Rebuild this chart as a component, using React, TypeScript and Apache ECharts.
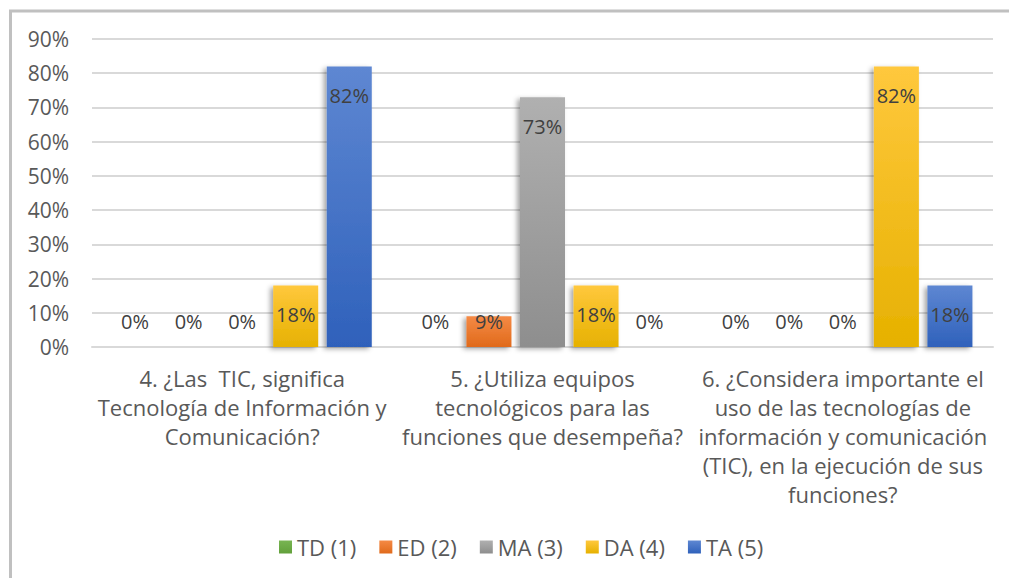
import React, { useEffect, useRef } from "react";
import * as echarts from "echarts";

const categories = [
  "4. ¿Las  TIC, significa\nTecnología de Información y\nComunicación?",
  "5. ¿Utiliza equipos\ntecnológicos para las\nfunciones que desempeña?",
  "6. ¿Considera importante el\nuso de las tecnologías de\ninformación y comunicación\n(TIC), en la ejecución de sus\nfunciones?",
];
const seriesNames = ["TD (1)", "ED (2)", "MA (3)", "DA (4)", "TA (5)"];
const TD = [0, 0, 0];
const ED = [0, 9, 0];
const MA = [0, 73, 0];
const DA = [18, 18, 82];
const TA = [82, 0, 18];
const yTicks = { min: 0, max: 90, interval: 10 };

const colorStops: [string, string][] = [
  ["#78b552", "#62a03b"],
  ["#f58a45", "#e06a1b"],
  ["#b0b0b0", "#8e8e8e"],
  ["#ffc83d", "#e6b100"],
  ["#5e87d2", "#2f61bb"],
];

const FONT = "'Open Sans', 'Noto Sans', sans-serif";

export default function App() {
  const ref = useRef<HTMLDivElement>(null);
  useEffect(() => {
    if (!ref.current) return;
    const chart = echarts.init(ref.current, undefined, { renderer: "svg" });
    const allData = [TD, ED, MA, DA, TA];
    const series = allData.map((vals, i) => ({
      name: seriesNames[i],
      type: "bar",
      barWidth: 45,
      barGap: "19%",
      itemStyle: {
        color: new echarts.graphic.LinearGradient(0, 0, 0, 1, [
          { offset: 0, color: colorStops[i][0] },
          { offset: 1, color: colorStops[i][1] },
        ]),
        shadowColor: "rgba(0,0,0,0.35)",
        shadowBlur: 5,
        shadowOffsetX: -3,
        shadowOffsetY: 2,
      },
      label: {
        show: true,
        formatter: "{c}%",
        color: "#404040",
        fontSize: 20,
        fontFamily: FONT,
      },
      data: vals.map((v) => ({
        value: v,
        label:
          v < 16
            ? { position: "insideBottom", distance: 16 }
            : { position: "insideTop", distance: 19 },
      })),
    }));
    chart.setOption({
      animation: false,
      textStyle: { fontFamily: FONT },
      graphic: [
        {
          type: "line",
          shape: { x1: 9, y1: 11, x2: 1009, y2: 11 },
          style: { stroke: "#c0c0c0", lineWidth: 3 },
        },
        {
          type: "line",
          shape: { x1: 10.5, y1: 10, x2: 10.5, y2: 578 },
          style: { stroke: "#c0c0c0", lineWidth: 3 },
        },
      ],
      grid: { left: 92, right: 16, top: 39, bottom: 231, containLabel: false },
      legend: {
        bottom: 15,
        left: 274,
        itemWidth: 13,
        itemHeight: 13,
        itemGap: 23,
        icon: "rect",
        textStyle: { color: "#595959", fontSize: 22, fontFamily: FONT },
        data: seriesNames,
      },
      xAxis: {
        type: "category",
        data: categories,
        axisTick: { show: false },
        axisLine: { lineStyle: { color: "#d9d9d9", width: 2 } },
        axisLabel: {
          interval: 0,
          color: "#595959",
          fontSize: 22,
          lineHeight: 29,
          margin: 16,
          fontFamily: FONT,
        },
      },
      yAxis: {
        type: "value",
        min: yTicks.min,
        max: yTicks.max,
        interval: yTicks.interval,
        axisLabel: {
          formatter: "{value}%",
          color: "#595959",
          fontSize: 21,
          margin: 23,
          fontFamily: FONT,
        },
        splitLine: { lineStyle: { color: "#d9d9d9", width: 2 } },
        axisLine: { show: false },
        axisTick: { show: false },
      },
      series,
    });
    return () => chart.dispose();
  }, []);
  return (
    <div
      ref={ref}
      style={{ position: "fixed", left: 0, top: 0, width: 1009, height: 578, background: "#fff" }}
    />
  );
}
